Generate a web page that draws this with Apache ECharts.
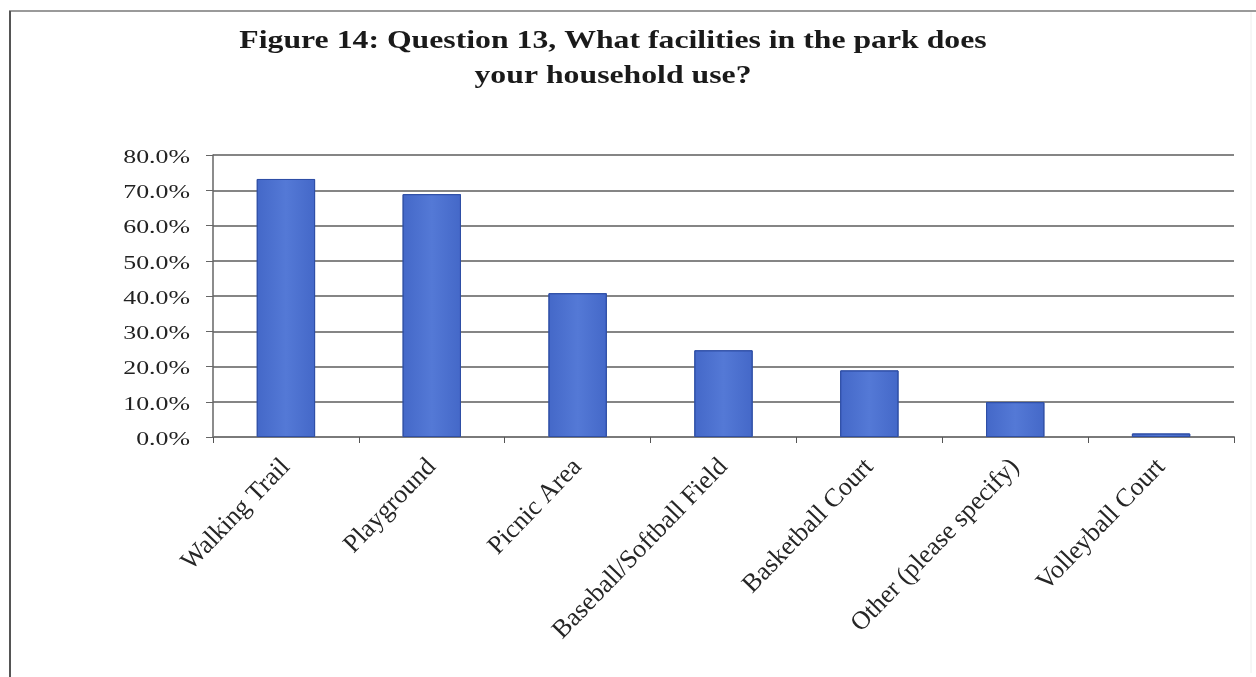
<!DOCTYPE html>
<html>
<head>
<meta charset="utf-8">
<script src="https://cdn.jsdelivr.net/npm/echarts@6/dist/echarts.min.js"></script>
<style>
  html, body { margin: 0; padding: 0; background: #fff; }
  #chart { width: 1256px; height: 677px; }
</style>
</head>
<body>
<div id="chart"></div>
<script>
// Share of households using each park facility (percent)
const categories = [
  'Walking Trail', 'Playground', 'Picnic Area', 'Baseball/Softball Field',
  'Basketball Court', 'Other (please specify)', 'Volleyball Court'
];
const usage = [73.2, 68.9, 40.8, 24.6, 18.9, 9.9, 1.0];
const yTicks = [0, 10, 20, 30, 40, 50, 60, 70, 80];
const titleLines = [
  'Figure 14: Question 13, What facilities in the park does',
  'your household use?'
];

const serif = '"Liberation Serif", "DejaVu Serif", serif';
const chart = echarts.init(document.getElementById('chart'));

chart.setOption({
  backgroundColor: '#ffffff',
  animation: false,
  grid: { left: 213, right: 22, top: 155, bottom: 240, containLabel: false },
  xAxis: {
    type: 'category',
    data: categories,
    boundaryGap: true,
    axisLine: { show: true, lineStyle: { color: '#7a7a7a', width: 2 } },
    axisTick: { show: true, alignWithLabel: false, length: 6, lineStyle: { color: '#555', width: 1 } },
    axisLabel: {
      rotate: 46,
      margin: 26,
      interval: 0,
      fontFamily: serif,
      fontSize: 26,
      color: '#262626'
    }
  },
  yAxis: {
    type: 'value',
    min: yTicks[0],
    max: yTicks[yTicks.length - 1],
    interval: 10,
    axisLine: { show: true, lineStyle: { color: '#666', width: 1.5 } },
    axisTick: { show: true, length: 7, lineStyle: { color: '#666', width: 1 } },
    axisLabel: { show: false },
    splitLine: { show: true, lineStyle: { color: '#858585', width: 2 } }
  },
  series: [{
    type: 'bar',
    data: usage,
    barWidth: '40%',
    itemStyle: {
      color: {
        type: 'linear', x: 0, y: 0, x2: 1, y2: 0,
        colorStops: [
          { offset: 0, color: '#4468c8' },
          { offset: 0.5, color: '#5479d6' },
          { offset: 1, color: '#4468c8' }
        ]
      },
      borderColor: '#2f4fa6',
      borderWidth: 1
    }
  }]
});

// Frame, title and widened y-axis tick labels placed from the axis scale
const graphics = [
  { type: 'line', shape: { x1: 9, y1: 11, x2: 1256, y2: 11 }, style: { stroke: '#9a9a9a', lineWidth: 2 } },
  { type: 'line', shape: { x1: 10, y1: 11, x2: 10, y2: 677 }, style: { stroke: '#555555', lineWidth: 2 } },
  { type: 'line', shape: { x1: 1251, y1: 12, x2: 1251, y2: 673 }, style: { stroke: '#eeeeee', lineWidth: 1 } }
];
titleLines.forEach((line, i) => {
  graphics.push({
    type: 'text',
    x: 613,
    y: 42 + i * 35,
    scaleX: 1.27,
    style: {
      text: line,
      fontFamily: serif,
      fontWeight: 'bold',
      fontSize: 25,
      fill: '#1a1a1a',
      align: 'center',
      verticalAlign: 'middle'
    }
  });
});
yTicks.forEach(v => {
  const py = chart.convertToPixel({ yAxisIndex: 0 }, v);
  graphics.push({
    type: 'text',
    x: 190,
    y: py + 3,
    scaleX: 1.36,
    style: {
      text: v.toFixed(1) + '%',
      fontFamily: serif,
      fontSize: 19,
      fill: '#222',
      align: 'right',
      verticalAlign: 'middle'
    }
  });
});
chart.setOption({ graphic: graphics });
</script>
</body>
</html>
